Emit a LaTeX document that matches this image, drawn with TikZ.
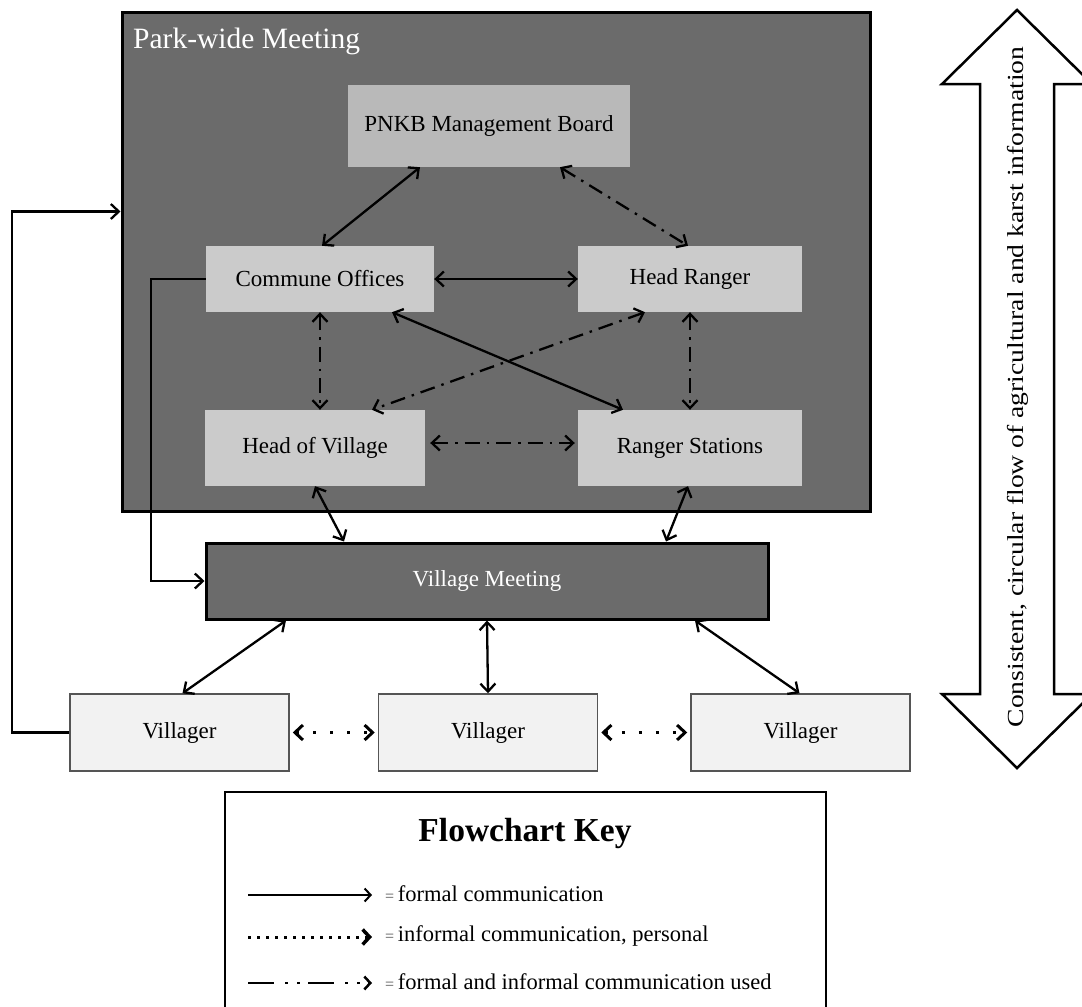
\documentclass[tikz,border=0pt]{standalone}
\usepackage{fontspec}
\setmainfont{Liberation Serif}
\usetikzlibrary{arrows.meta}
\definecolor{parkgray}{HTML}{6B6B6B}
\definecolor{boxgray}{HTML}{CBCBCB}
\definecolor{boardgray}{HTML}{B9B9B9}
\definecolor{villagerfill}{HTML}{F2F2F2}
\definecolor{villageredge}{HTML}{555555}
\definecolor{eqgray}{HTML}{555555}
\newcommand\keyeqfont{\fontsize{16}{16}\selectfont\color{eqgray}}
\newcommand\boxfont{\fontsize{23}{27}\selectfont}
\begin{document}
\begin{tikzpicture}[x=1pt,y=-1pt,
  barb/.style={>={Straight Barb[length=8pt,width=15pt]}},
  link/.style={barb, line width=2.3pt, <->},
  formal/.style={link},
  mixed/.style={link, dash pattern=on 15pt off 7pt on 2.5pt off 7pt},
  personal/.style={link, line width=3pt, dash pattern=on 3pt off 14pt},
  feed/.style={barb, line width=2.3pt, ->},
  lightbox/.style={fill=boxgray, inner sep=0pt, font=\boxfont},
  darkbox/.style={draw=black, line width=3pt, fill=parkgray, inner sep=0pt},
  villagerbox/.style={draw=villageredge, line width=1.5pt, fill=villagerfill,
    minimum width=219pt, minimum height=77pt, inner sep=0pt, font=\boxfont},
  keytext/.style={anchor=west, inner sep=0pt, font=\fontsize{22.5}{26}\selectfont}
]
\useasboundingbox (0,0) rectangle (1082,1007);
\fill[white] (0,0) rectangle (1082,1007);

% park-wide meeting frame
\node[darkbox, minimum width=748pt, minimum height=499pt] (park) at (496,261.5) {};
\node[anchor=base west, inner sep=0pt, text=white, font=\fontsize{29.5}{34}\selectfont]
  (parktitle) at (133,48) {Park-wide Meeting};

% actors inside the park-wide meeting
\node[lightbox, fill=boardgray, minimum width=282pt, minimum height=82pt] (board) at (489,126) {PNKB Management Board};
\node[lightbox, minimum width=228pt, minimum height=66pt] (commune) at (320,279) {Commune Offices};
\node[lightbox, minimum width=224pt, minimum height=66pt] (headranger) at (690,279) {Head Ranger};
\node[lightbox, minimum width=220pt, minimum height=76pt] (headvillage) at (315,448) {Head of Village};
\node[lightbox, minimum width=224pt, minimum height=76pt] (rangerst) at (690,448) {Ranger Stations};

% village level
\node[darkbox, minimum width=562pt, minimum height=76pt, text=white, font=\boxfont]
  (vmeet) at (487,581) {Village Meeting};
\node[villagerbox] (v1) at (179.5,732.5) {Villager};
\node[villagerbox] (v2) at (488,732.5) {Villager};
\node[villagerbox] (v3) at (800.5,732.5) {Villager};

% links between actors
\draw[formal] ([xshift=-69pt]board.south) -- ([xshift=2pt]commune.north);
\draw[mixed] ([xshift=71pt]board.south) -- ([xshift=-2pt]headranger.north);
\draw[formal] (commune.east) -- (headranger.west);
\draw[formal] ([xshift=72pt]commune.south) -- ([xshift=-67pt]rangerst.north);
\draw[mixed] ([xshift=-45pt]headranger.south) -- ([xshift=57pt]headvillage.north);
\draw[mixed] (commune.south) -- (commune.south |- headvillage.north);
\draw[mixed] (headranger.south) -- (rangerst.north);
\draw[mixed, shorten <=5pt, shorten >=3pt] ([yshift=5pt]headvillage.east) -- ([yshift=5pt]rangerst.west);
\draw[formal] (headvillage.south) -- ([xshift=-143pt]vmeet.north);
\draw[formal] ([xshift=-2pt]rangerst.south) -- ([xshift=179pt]vmeet.north);
\draw[formal] ([xshift=-201pt]vmeet.south) -- ([xshift=3pt]v1.north);
\draw[formal] (vmeet.south) -- (v2.north);
\draw[formal] ([xshift=208pt]vmeet.south) -- ([xshift=-1pt]v3.north);
\draw[personal, shorten <=3pt, shorten >=3pt] (v1.east) -- (v2.west);
\draw[personal, shorten <=3pt, shorten >=3pt] (v2.east) -- (v3.west);

% feedback routes
\draw[feed] (v1.west) -- ++(-57,0) |- ([yshift=50pt]park.west);
\draw[feed] (commune.west) -- ++(-55,0) |- (vmeet.west);

\begin{scope}
\clip (0,0) rectangle (1082,1007);
% two-headed flow arrow
\draw[line width=2.5pt, fill=white, line join=miter]
  (1017,10) -- (1092,84) -- (1054,84) -- (1054,694) -- (1092,694) -- (1017,768)
  -- (942,694) -- (980,694) -- (980,84) -- (942,84) -- cycle;
\node[rotate=90, inner sep=0pt, font=\boxfont] (flowtext) at (1018,387)
  {\scalebox{1.2}[1]{Consistent, circular flow of agricultural and karst information}};

% key
\draw[line width=2.5pt] (225,1012) -- (225,792) -- (826,792) -- (826,1012);
\end{scope}
\node[font=\bfseries\fontsize{33.5}{38}\selectfont] (keytitle) at (525,833) {Flowchart Key};

\coordinate (k1a) at (248,895); \coordinate (k1b) at (372,895);
\coordinate (k2a) at (248,937); \coordinate (k2b) at (372,937);
\coordinate (k3a) at (248,983); \coordinate (k3b) at (372,983);
\node[keytext] (k1) at (385,894) {{\keyeqfont=}\,formal communication};
\node[keytext] (k2) at (385,936) {{\keyeqfont=}\,informal communication, personal};
\node[keytext] (k3) at (385,982) {{\keyeqfont=}\,formal and informal communication used};
\draw[line width=2pt, -{Straight Barb[length=6pt,width=13pt]}] (k1a) -- (k1b);
\draw[line width=3pt, dash pattern=on 3pt off 6pt,
  -{Straight Barb[length=7pt,width=15pt,line width=3.5pt]}] (k2a) -- (k2b);
\draw[line width=2.5pt, dash pattern=on 26pt off 11pt on 3pt off 9pt on 3pt off 8pt,
  -{Straight Barb[length=6pt,width=13pt]}] (k3a) -- (k3b);
\end{tikzpicture}
\end{document}
